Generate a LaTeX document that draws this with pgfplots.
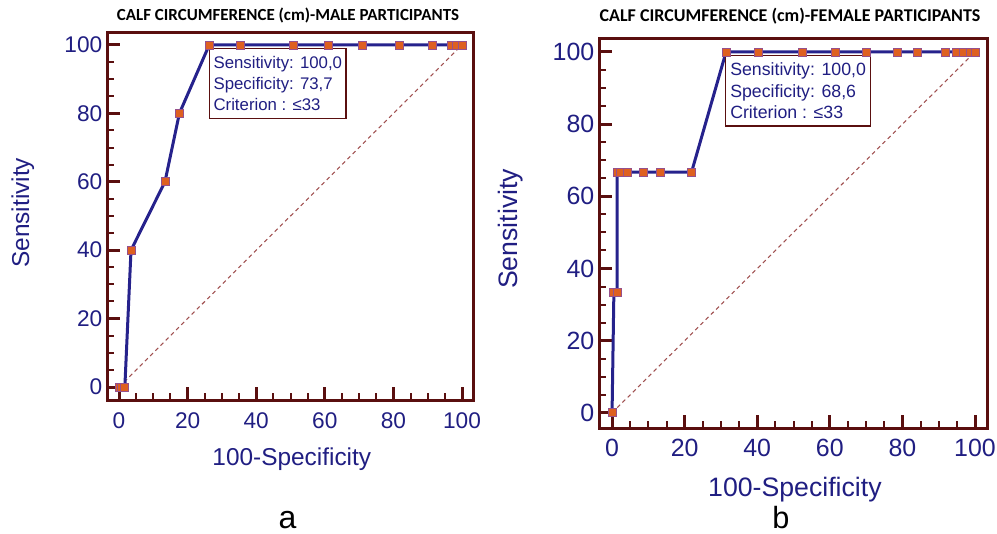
\documentclass[border=0pt]{standalone}
\usepackage{pgfplots}
\pgfplotsset{compat=1.18}
\usepackage{fontspec}
\setmainfont{Liberation Sans}
\newfontfamily\titlefont{Carlito}

\definecolor{rocline}{RGB}{38,34,140}
\definecolor{labc}{RGB}{32,30,130}
\definecolor{frame}{RGB}{90,15,15}
\definecolor{markf}{RGB}{222,96,32}
\definecolor{markd}{RGB}{150,80,140}
\definecolor{diag}{RGB}{160,80,80}

\pgfplotsset{
  rocaxis/.style={
    scale only axis, clip=false,
    axis line style={draw=frame, line width=2.25pt},
    tick align=inside, xtick pos=bottom, ytick pos=left,
    xtick={0,20,...,100}, ytick={0,20,...,100},
    minor tick num=3,
    major tick length=9.5pt, minor tick length=5.5pt,
    every major tick/.append style={draw=frame, line width=2.25pt},
    every minor tick/.append style={draw=frame, line width=1.5pt},
    tick label style={text=labc},
    label style={text=labc},
    /pgf/number format/assume math mode=true,
  },
  roc/.style={line width=2.25pt, color=rocline, mark=square*, mark size=3pt,
    mark options={fill=markf, draw=markd, line width=0.6pt, solid}},
  diagline/.style={color=diag, line width=0.8pt, dash pattern=on 3pt off 2.5pt},
}

\begin{document}
\begin{tikzpicture}
\path[use as bounding box] (0,0) rectangle (747.75pt,399.75pt);

% a: male participants
\begin{axis}[rocaxis,
  at={(80.25pt,99.75pt)}, anchor=south west,
  width=274.5pt, height=275.25pt,
  xmin=-3.5, xmax=103.2, ymin=-3.8, ymax=103.5,
  tick label style={font=\fontsize{17}{20}\selectfont},
  xticklabel style={yshift=-6pt},
  label style={font=\fontsize{18.3}{22}\selectfont},
  xlabel={100-Specificity}, ylabel={Sensitivity},
  xlabel style={at={(axis description cs:0.505,-0.16)}, anchor=center},
  ylabel style={at={(axis description cs:-0.23,0.51)}, anchor=center},
  ]
  \addplot[diagline] coordinates {(0,0) (100,100)};
  \addplot[roc] coordinates {
    (0,0) (0.8,0) (1.7,0) (3.5,40) (13.4,60) (17.6,80) (26.3,100)
    (35.3,100) (50.9,100) (61.1,100) (71.1,100) (81.7,100) (91.5,100)
    (96.8,100) (98.4,100) (100,100)};
  \node[draw=frame, fill=white, line width=1pt, anchor=north west, align=left,
    inner xsep=3pt, inner ysep=6pt, text=labc,
    font=\fontsize{12.6}{15.5}\selectfont]
    at (axis cs:26.2,99.1) {Sensitivity: 100,0\\Specificity: 73,7\\Criterion : ≤33};
\end{axis}

% b: female participants
\begin{axis}[rocaxis,
  at={(449.25pt,78.75pt)}, anchor=south west,
  width=291pt, height=291.75pt,
  xmin=-3.6, xmax=103.3, ymin=-4.2, ymax=103.6,
  tick label style={font=\fontsize{18.7}{22}\selectfont},
  xticklabel style={yshift=-5pt},
  label style={font=\fontsize{20}{24}\selectfont},
  xlabel={100-Specificity}, ylabel={Sensitivity},
  xlabel style={at={(axis description cs:0.505,-0.158)}, anchor=center},
  ylabel style={at={(axis description cs:-0.227,0.512)}, anchor=center},
  ]
  \addplot[diagline] coordinates {(0,0) (100,100)};
  \addplot[roc] coordinates {
    (0,0) (0.5,33.3) (1.4,33.3) (1.4,66.7) (2.2,66.7) (4.1,66.7) (8.6,66.7)
    (13.3,66.7) (21.9,66.7) (31.4,100) (40.4,100) (52.5,100) (61.4,100)
    (70,100) (78.5,100) (84,100) (91.7,100) (95,100) (96.9,100) (98.6,100)
    (100,100)};
  \node[draw=frame, fill=white, line width=1pt, anchor=north west, align=left,
    inner xsep=3.5pt, inner ysep=5.5pt, text=labc,
    font=\fontsize{13.3}{16}\selectfont]
    at (axis cs:31.1,99.2) {Sensitivity: 100,0\\Specificity: 68,6\\Criterion : ≤33};
\end{axis}

\node[font=\titlefont\bfseries\fontsize{12.7}{14}\selectfont] at (216pt,387.75pt)
  {CALF CIRCUMFERENCE (cm)-MALE PARTICIPANTS};
\node[font=\titlefont\bfseries\fontsize{13.5}{15}\selectfont] at (592.5pt,387.75pt)
  {CALF CIRCUMFERENCE (cm)-FEMALE PARTICIPANTS};
\node[font=\fontsize{24}{28}\selectfont, anchor=base, inner sep=0pt] at (215.6pt,3.75pt) {a};
\node[font=\fontsize{23}{27}\selectfont, anchor=base, inner sep=0pt] at (585.75pt,3.5pt) {b};
\end{tikzpicture}
\end{document}
